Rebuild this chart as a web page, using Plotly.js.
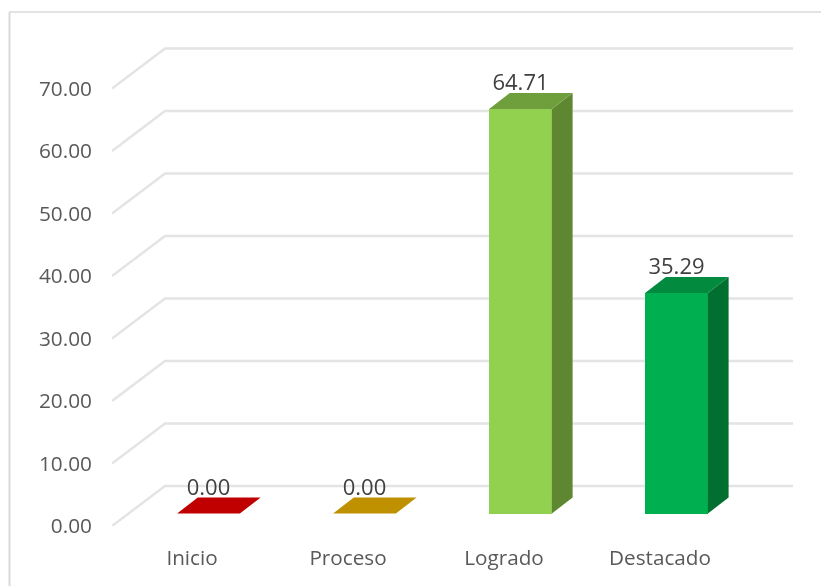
<!DOCTYPE html>
<html>
<head>
<meta charset="utf-8">
<script src="https://cdn.plot.ly/plotly-3.0.1.min.js"></script>
<style>html,body{margin:0;padding:0;background:#fff;overflow:hidden}#chart{width:821px;height:586px;filter:blur(0.45px)}</style>
</head>
<body>
<div id="chart"></div>
<script>
// Data
const categories = ["Inicio", "Proceso", "Logrado", "Destacado"];
const values = [0.00, 0.00, 64.71, 35.29];
const yTicks = [0, 10, 20, 30, 40, 50, 60, 70];
const frontColors = ["#C00000", "#BF9000", "#92D050", "#00B050"];
const topColors = ["#C00000", "#BF9000", "#6F9E3D", "#028A3F"];
const sideColors = ["#8F0000", "#8F6C00", "#5F8731", "#006F30"];

// Geometry of the pseudo-3D box, in axis units
const W = 821, H = 586;
const M = {l: 112, r: 28, t: 47, b: 60};
const xUnitPx = 156, yUnitPx = 6.25;
const xMin = (M.l - 192) / xUnitPx;
const xMax = xMin + (W - M.l - M.r) / xUnitPx;
const yMax = (H - M.t - M.b) / yUnitPx;
const wallDx = 53 / xUnitPx, wallDy = 6.4;       // floor/wall depth
const barShift = 16.5 / xUnitPx, barBase = 2;     // bar front inside the floor
const barW = 62.8 / xUnitPx;
const barDx = 20.7 / xUnitPx, barDy = 2.56;       // bar depth

const gridColor = "#E4E4E4";
const shapes = yTicks.map(v => ({
  type: "path", xref: "x", yref: "y", layer: "below",
  path: `M ${xMin} ${v} L ${xMin + wallDx} ${v + wallDy} L ${xMax} ${v + wallDy}`,
  line: {color: gridColor, width: 2.5}
}));
// Chart frame (only left and top edges are visible)
const px = p => (p - M.l) / (W - M.l - M.r);
const py = p => 1 - (p - M.t) / (H - M.t - M.b);
shapes.push({type: "line", xref: "paper", yref: "paper", x0: px(9.5), x1: px(9.5), y0: py(12), y1: py(590),
  line: {color: "#DADADA", width: 2}});
shapes.push({type: "line", xref: "paper", yref: "paper", x0: px(9), x1: px(825), y0: py(12), y1: py(12),
  line: {color: "#DADADA", width: 1.5}});

const traces = [];
// Front faces
traces.push({
  type: "bar",
  x: categories.map((_, i) => i + barShift),
  y: values,
  base: values.map(() => barBase),
  width: barW,
  marker: {color: frontColors, line: {width: 0}},
  hoverinfo: "skip", showlegend: false
});
// Side and top faces
values.forEach((v, i) => {
  const x0 = i + barShift - barW / 2, x1 = x0 + barW;
  const y0 = barBase, y1 = barBase + v;
  if (v > 0) {
    traces.push({
      type: "scatter", mode: "lines", fill: "toself", fillcolor: sideColors[i],
      x: [x1, x1 + barDx, x1 + barDx, x1, x1],
      y: [y0, y0 + barDy, y1 + barDy, y1, y0],
      line: {width: 0, color: sideColors[i]}, hoverinfo: "skip", showlegend: false
    });
  }
  traces.push({
    type: "scatter", mode: "lines", fill: "toself", fillcolor: topColors[i],
    x: [x0, x1, x1 + barDx, x0 + barDx, x0],
    y: [y1, y1, y1 + barDy, y1 + barDy, y1],
    line: {width: 0, color: topColors[i]}, hoverinfo: "skip", showlegend: false
  });
});
// Data labels
traces.push({
  type: "scatter", mode: "text",
  x: categories.map((_, i) => i + barShift),
  y: values.map(v => v + barBase + barDy - 0.45),
  text: values.map(v => v.toFixed(2)),
  textposition: "top center",
  textfont: {family: "Open Sans", size: 22, color: "#404040"},
  cliponaxis: false, hoverinfo: "skip", showlegend: false
});

const layout = {
  width: W, height: H,
  margin: M,
  paper_bgcolor: "#fff", plot_bgcolor: "rgba(0,0,0,0)",
  showlegend: false,
  bargap: 0,
  font: {family: "Open Sans", size: 20, color: "#595959"},
  xaxis: {
    type: "linear", range: [xMin, xMax], autorange: false,
    tickmode: "array", tickvals: categories.map((_, i) => i), ticktext: categories,
    showgrid: false, zeroline: false, showline: false, ticks: "",
    ticklabelstandoff: 17, tickangle: 0,
    tickfont: {family: "Open Sans", size: 20.7, color: "#595959"}
  },
  yaxis: {
    type: "linear", range: [0, yMax], autorange: false,
    tickmode: "array", tickvals: yTicks, ticktext: yTicks.map(v => v.toFixed(2)),
    showgrid: false, zeroline: false, showline: false, ticks: "",
    ticklabelstandoff: 19,
    tickfont: {family: "Open Sans", size: 20.8, color: "#595959"}
  },
  shapes: shapes
};
Plotly.newPlot("chart", traces, layout, {displayModeBar: false, staticPlot: true});
</script>
</body>
</html>
